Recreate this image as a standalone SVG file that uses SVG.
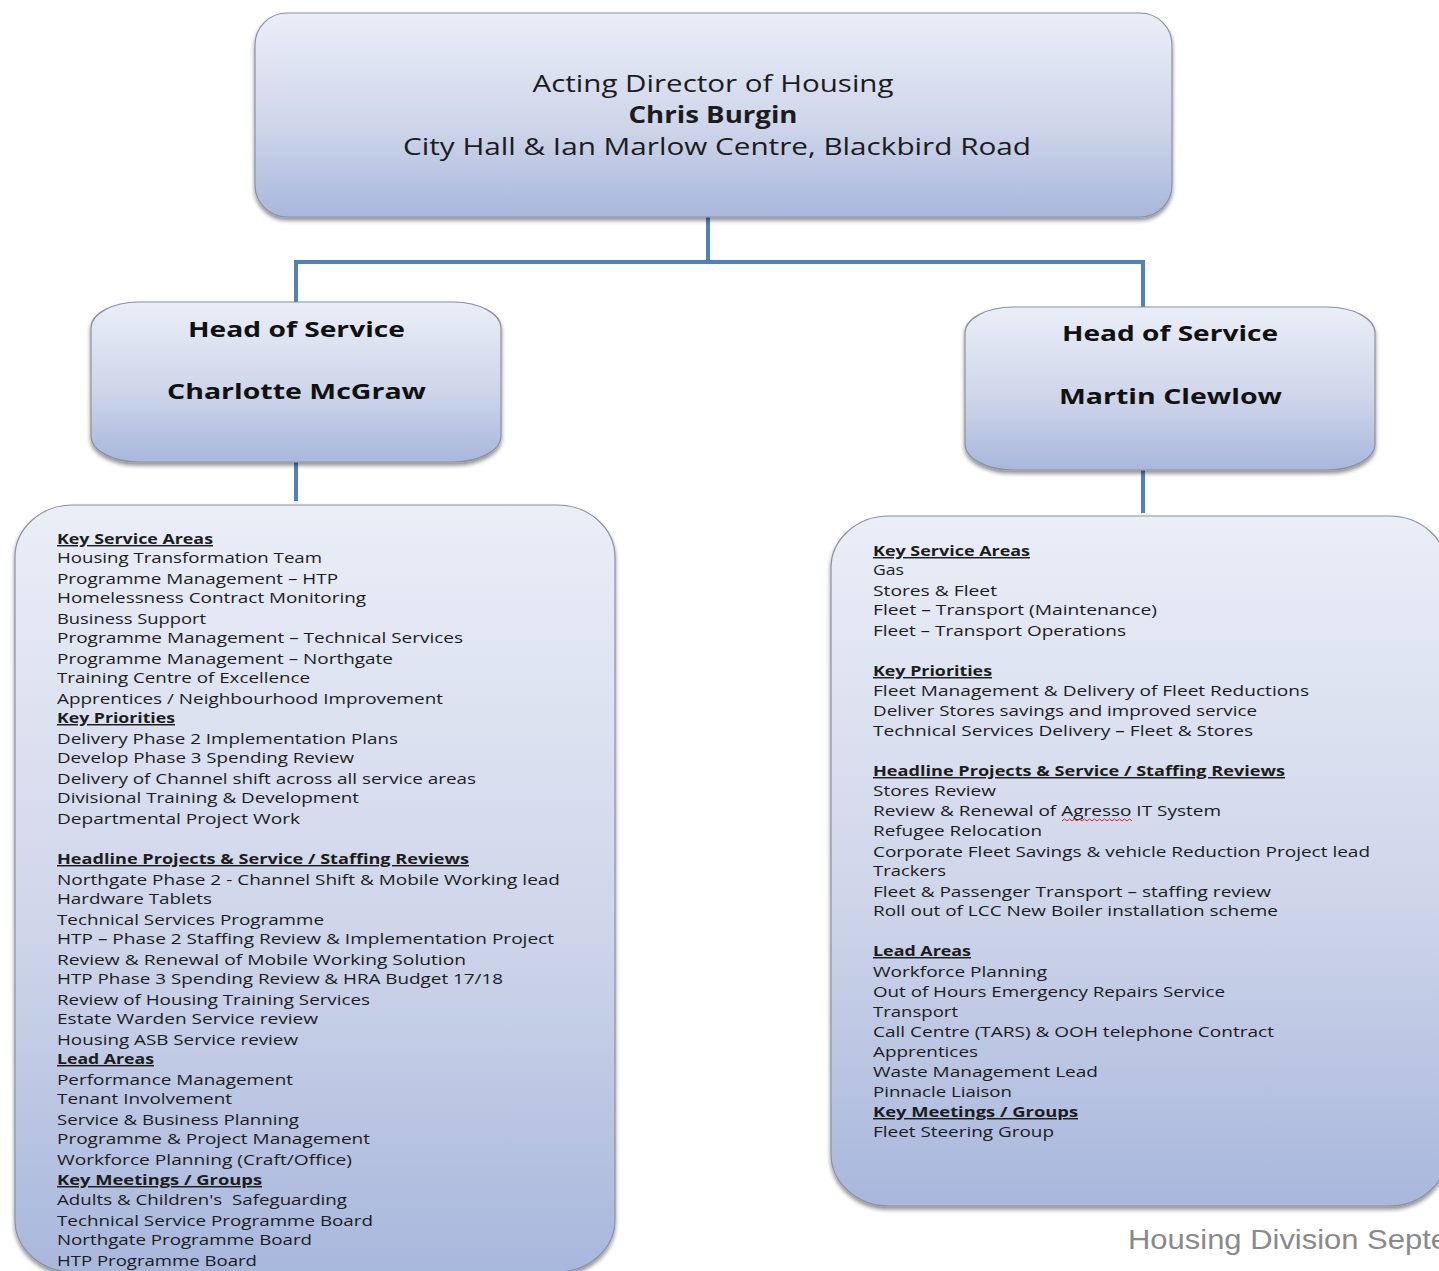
<svg xmlns="http://www.w3.org/2000/svg" width="1439" height="1271" viewBox="0 0 1439 1271">
<style>
.box{fill:url(#g);stroke:#8d91a0;stroke-width:1.2;filter:url(#sh)}
.conn{stroke:#4f81bd;stroke-width:4;fill:none}
.t{font-family:"Open Sans","DejaVu Sans",sans-serif;font-size:14.5px;fill:#1c1c1c}
.h{font-family:"Open Sans","DejaVu Sans",sans-serif;font-size:14.5px;font-weight:700;fill:#1c1c1c;text-decoration:underline}
.top{font-family:"Open Sans","DejaVu Sans",sans-serif;font-size:24px;fill:#1c1c1c}
.hs{font-family:"Open Sans","DejaVu Sans",sans-serif;font-size:21px;font-weight:700;fill:#111}
.foot{font-family:"Liberation Sans",Arial,sans-serif;font-size:28px;fill:#8a8a8a}
</style>
<defs>
<linearGradient id="g" x1="0" y1="0" x2="0" y2="1">
<stop offset="0" stop-color="#eaeef7"/>
<stop offset="0.55" stop-color="#cfd6ea"/>
<stop offset="1" stop-color="#a8b7dc"/>
</linearGradient>
<filter id="sh" x="-5%" y="-5%" width="110%" height="115%">
<feGaussianBlur in="SourceAlpha" stdDeviation="2"/>
<feOffset dx="0" dy="3" result="b"/>
<feComponentTransfer><feFuncA type="linear" slope="0.45"/></feComponentTransfer>
<feMerge><feMergeNode/><feMergeNode in="SourceGraphic"/></feMerge>
</filter>
</defs>
<rect width="1439" height="1271" fill="#ffffff"/>
<g id="connectors">
<path class="conn" d="M708 217 V262 M294 262 H1145 M296 262 V302 M1143 262 V307 M296 462 V501 M1143 470 V513"/>
</g>
<g id="director">
<rect class="box" x="255" y="13" width="917" height="204" rx="32" ry="32"/>
<text class="top" x="713" y="92" text-anchor="middle" textLength="361" lengthAdjust="spacingAndGlyphs">Acting Director of Housing</text>
<text class="top" x="713" y="123" text-anchor="middle" font-weight="700" textLength="169" lengthAdjust="spacingAndGlyphs">Chris Burgin</text>
<text class="top" x="717" y="155" text-anchor="middle" textLength="628" lengthAdjust="spacingAndGlyphs">City Hall &amp; Ian Marlow Centre, Blackbird Road</text>
</g>
<g id="head-left">
<rect class="box" x="91" y="302" width="410" height="160" rx="48" ry="26"/>
<text class="hs" x="188" y="337" textLength="217" lengthAdjust="spacingAndGlyphs">Head of Service</text>
<text class="hs" x="167" y="399" textLength="259" lengthAdjust="spacingAndGlyphs">Charlotte McGraw</text>
</g>
<g id="head-right">
<rect class="box" x="965" y="307" width="410" height="163" rx="48" ry="26"/>
<text class="hs" x="1062" y="341" textLength="216" lengthAdjust="spacingAndGlyphs">Head of Service</text>
<text class="hs" x="1059" y="404" textLength="223" lengthAdjust="spacingAndGlyphs">Martin Clewlow</text>
</g>
<g id="list-left">
<rect class="box" x="15" y="505" width="600" height="767" rx="58" ry="52"/>
<text class="h" x="57" y="544" textLength="156" lengthAdjust="spacingAndGlyphs">Key Service Areas</text>
<text class="t" x="57" y="563" textLength="265" lengthAdjust="spacingAndGlyphs">Housing Transformation Team</text>
<text class="t" x="57" y="584" textLength="281" lengthAdjust="spacingAndGlyphs">Programme Management – HTP</text>
<text class="t" x="57" y="603" textLength="309" lengthAdjust="spacingAndGlyphs">Homelessness Contract Monitoring</text>
<text class="t" x="57" y="624" textLength="149" lengthAdjust="spacingAndGlyphs">Business Support</text>
<text class="t" x="57" y="643" textLength="406" lengthAdjust="spacingAndGlyphs">Programme Management – Technical Services</text>
<text class="t" x="57" y="664" textLength="336" lengthAdjust="spacingAndGlyphs">Programme Management – Northgate</text>
<text class="t" x="57" y="683" textLength="253" lengthAdjust="spacingAndGlyphs">Training Centre of Excellence</text>
<text class="t" x="57" y="704" textLength="386" lengthAdjust="spacingAndGlyphs">Apprentices / Neighbourhood Improvement</text>
<text class="h" x="57" y="723" textLength="118" lengthAdjust="spacingAndGlyphs">Key Priorities</text>
<text class="t" x="57" y="744" textLength="341" lengthAdjust="spacingAndGlyphs">Delivery Phase 2 Implementation Plans</text>
<text class="t" x="57" y="763" textLength="297" lengthAdjust="spacingAndGlyphs">Develop Phase 3 Spending Review</text>
<text class="t" x="57" y="784" textLength="419" lengthAdjust="spacingAndGlyphs">Delivery of Channel shift across all service areas</text>
<text class="t" x="57" y="803" textLength="302" lengthAdjust="spacingAndGlyphs">Divisional Training &amp; Development</text>
<text class="t" x="57" y="824" textLength="243" lengthAdjust="spacingAndGlyphs">Departmental Project Work</text>
<text class="h" x="57" y="864" textLength="412" lengthAdjust="spacingAndGlyphs">Headline Projects &amp; Service / Staffing Reviews</text>
<text class="t" x="57" y="885" textLength="503" lengthAdjust="spacingAndGlyphs">Northgate Phase 2 - Channel Shift &amp; Mobile Working lead</text>
<text class="t" x="57" y="904" textLength="155" lengthAdjust="spacingAndGlyphs">Hardware Tablets</text>
<text class="t" x="57" y="925" textLength="267" lengthAdjust="spacingAndGlyphs">Technical Services Programme</text>
<text class="t" x="57" y="944" textLength="497" lengthAdjust="spacingAndGlyphs">HTP – Phase 2 Staffing Review &amp; Implementation Project</text>
<text class="t" x="57" y="965" textLength="409" lengthAdjust="spacingAndGlyphs">Review &amp; Renewal of Mobile Working Solution</text>
<text class="t" x="57" y="984" textLength="446" lengthAdjust="spacingAndGlyphs">HTP Phase 3 Spending Review &amp; HRA Budget 17/18</text>
<text class="t" x="57" y="1005" textLength="313" lengthAdjust="spacingAndGlyphs">Review of Housing Training Services</text>
<text class="t" x="57" y="1024" textLength="261" lengthAdjust="spacingAndGlyphs">Estate Warden Service review</text>
<text class="t" x="57" y="1045" textLength="241" lengthAdjust="spacingAndGlyphs">Housing ASB Service review</text>
<text class="h" x="57" y="1064" textLength="97" lengthAdjust="spacingAndGlyphs">Lead Areas</text>
<text class="t" x="57" y="1085" textLength="236" lengthAdjust="spacingAndGlyphs">Performance Management</text>
<text class="t" x="57" y="1104" textLength="175" lengthAdjust="spacingAndGlyphs">Tenant Involvement</text>
<text class="t" x="57" y="1125" textLength="242" lengthAdjust="spacingAndGlyphs">Service &amp; Business Planning</text>
<text class="t" x="57" y="1144" textLength="313" lengthAdjust="spacingAndGlyphs">Programme &amp; Project Management</text>
<text class="t" x="57" y="1165" textLength="295" lengthAdjust="spacingAndGlyphs">Workforce Planning (Craft/Office)</text>
<text class="h" x="57" y="1185" textLength="205" lengthAdjust="spacingAndGlyphs">Key Meetings / Groups</text>
<text class="t" x="57" y="1205" textLength="290" lengthAdjust="spacingAndGlyphs" xml:space="preserve">Adults &amp; Children's  Safeguarding</text>
<text class="t" x="57" y="1226" textLength="316" lengthAdjust="spacingAndGlyphs">Technical Service Programme Board</text>
<text class="t" x="57" y="1245" textLength="255" lengthAdjust="spacingAndGlyphs">Northgate Programme Board</text>
<text class="t" x="57" y="1266" textLength="200" lengthAdjust="spacingAndGlyphs">HTP Programme Board</text>
</g>
<g id="list-right">
<rect class="box" x="831" y="516" width="616" height="690" rx="58" ry="52"/>
<text class="h" x="873" y="556" textLength="157" lengthAdjust="spacingAndGlyphs">Key Service Areas</text>
<text class="t" x="873" y="575" textLength="31" lengthAdjust="spacingAndGlyphs">Gas</text>
<text class="t" x="873" y="596" textLength="124" lengthAdjust="spacingAndGlyphs">Stores &amp; Fleet</text>
<text class="t" x="873" y="615" textLength="284" lengthAdjust="spacingAndGlyphs">Fleet – Transport (Maintenance)</text>
<text class="t" x="873" y="636" textLength="253" lengthAdjust="spacingAndGlyphs">Fleet – Transport Operations</text>
<text class="h" x="873" y="676" textLength="119" lengthAdjust="spacingAndGlyphs">Key Priorities</text>
<text class="t" x="873" y="696" textLength="436" lengthAdjust="spacingAndGlyphs">Fleet Management &amp; Delivery of Fleet Reductions</text>
<text class="t" x="873" y="716" textLength="384" lengthAdjust="spacingAndGlyphs">Deliver Stores savings and improved service</text>
<text class="t" x="873" y="736" textLength="380" lengthAdjust="spacingAndGlyphs">Technical Services Delivery – Fleet &amp; Stores</text>
<text class="h" x="873" y="776" textLength="412" lengthAdjust="spacingAndGlyphs">Headline Projects &amp; Service / Staffing Reviews</text>
<text class="t" x="873" y="796" textLength="123" lengthAdjust="spacingAndGlyphs">Stores Review</text>
<text class="t" x="873" y="816" textLength="348" lengthAdjust="spacingAndGlyphs">Review &amp; Renewal of Agresso IT System</text>
<path d="M1062 821 l2.5 -2 l2.5 2 l2.5 -2 l2.5 2 l2.5 -2 l2.5 2 l2.5 -2 l2.5 2 l2.5 -2 l2.5 2 l2.5 -2 l2.5 2 l2.5 -2 l2.5 2 l2.5 -2 l2.5 2 l2.5 -2 l2.5 2 l2.5 -2 l2.5 2 l2.5 -2 l2.5 2 l2.5 -2 l2.5 2 l2.5 -2 l2.5 2 l2.5 -2 l2.5 2" fill="none" stroke="#e02020" stroke-width="1"/>
<text class="t" x="873" y="836" textLength="169" lengthAdjust="spacingAndGlyphs">Refugee Relocation</text>
<text class="t" x="873" y="857" textLength="497" lengthAdjust="spacingAndGlyphs">Corporate Fleet Savings &amp; vehicle Reduction Project lead</text>
<text class="t" x="873" y="876" textLength="73" lengthAdjust="spacingAndGlyphs">Trackers</text>
<text class="t" x="873" y="897" textLength="398" lengthAdjust="spacingAndGlyphs">Fleet &amp; Passenger Transport – staffing review</text>
<text class="t" x="873" y="916" textLength="405" lengthAdjust="spacingAndGlyphs">Roll out of LCC New Boiler installation scheme</text>
<text class="h" x="873" y="956" textLength="98" lengthAdjust="spacingAndGlyphs">Lead Areas</text>
<text class="t" x="873" y="977" textLength="174" lengthAdjust="spacingAndGlyphs">Workforce Planning</text>
<text class="t" x="873" y="997" textLength="352" lengthAdjust="spacingAndGlyphs">Out of Hours Emergency Repairs Service</text>
<text class="t" x="873" y="1017" textLength="85" lengthAdjust="spacingAndGlyphs">Transport</text>
<text class="t" x="873" y="1037" textLength="401" lengthAdjust="spacingAndGlyphs">Call Centre (TARS) &amp; OOH telephone Contract</text>
<text class="t" x="873" y="1057" textLength="105" lengthAdjust="spacingAndGlyphs">Apprentices</text>
<text class="t" x="873" y="1077" textLength="225" lengthAdjust="spacingAndGlyphs">Waste Management Lead</text>
<text class="t" x="873" y="1097" textLength="139" lengthAdjust="spacingAndGlyphs">Pinnacle Liaison</text>
<text class="h" x="873" y="1117" textLength="205" lengthAdjust="spacingAndGlyphs">Key Meetings / Groups</text>
<text class="t" x="873" y="1137" textLength="181" lengthAdjust="spacingAndGlyphs">Fleet Steering Group</text>
</g>
<text class="foot" x="1128" y="1249" textLength="320" lengthAdjust="spacingAndGlyphs">Housing Division Septe</text>
</svg>
